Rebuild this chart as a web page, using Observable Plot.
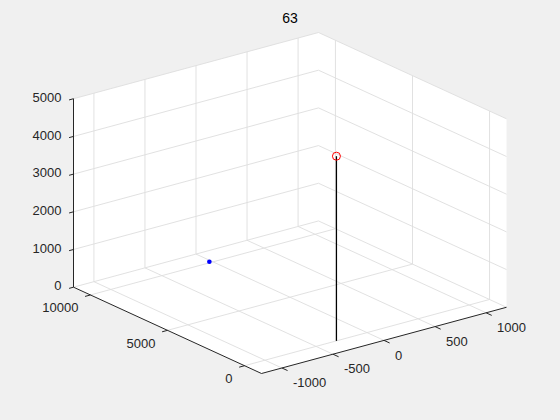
<!DOCTYPE html>
<html>
<head>
<meta charset="utf-8">
<script src="https://cdn.jsdelivr.net/npm/d3@7"></script>
<script src="https://cdn.jsdelivr.net/npm/@observablehq/plot@0.6"></script>
<style>
  html, body { margin: 0; padding: 0; background: #f0f0f0; }
  #chart { width: 560px; height: 420px; }
</style>
</head>
<body>
<div id="chart"></div>
<script>
// ---- chart data ----
const titleText = "63";
const xTicks = [-1000, -500, 0, 500, 1000];
const yTicks = [0, 5000, 10000];
const zTicks = [0, 1000, 2000, 3000, 4000, 5000];
const xLim = [-1200, 1200];
const yLim = [-1100, 11100];
const zLim = [0, 5000];
const viewAz = -37.5;
const viewEl = 30;
// red circle on top of a black stem
const circleX = [-300];
const circleY = [0];
const circleZ = [4900];
// blue dot
const dotX = [-20];
const dotY = [10100];
const dotZ = [0];

// ---- 3D projection (orthographic, MATLAB-style view) ----
const A = viewAz * Math.PI / 180, E = viewEl * Math.PI / 180;
function proj(x, y, z) {
  const u = (x - xLim[0]) / (xLim[1] - xLim[0]) - 0.5;
  const v = (y - yLim[0]) / (yLim[1] - yLim[0]) - 0.5;
  const w = (z - zLim[0]) / (zLim[1] - zLim[0]) - 0.5;
  return [u * Math.cos(A) + v * Math.sin(A),
          w * Math.cos(E) + Math.sin(E) * (-u * Math.sin(A) + v * Math.cos(A))];
}
function seg(p, q, extra = {}) {
  const a = proj(...p), b = proj(...q);
  return {x1: a[0], y1: a[1], x2: b[0], y2: b[1], ...extra};
}
const [x0, x1] = xLim, [y0, y1] = yLim, [z0, z1] = zLim;
const xR = x1 - x0, yR = y1 - y0;

// box corners -> silhouette (white axes background)
const corners = [];
for (const x of xLim) for (const y of yLim) for (const z of zLim) corners.push(proj(x, y, z));
const hull = d3.polygonHull(corners);
const hullPts = [...hull, hull[0]].map(([x, y]) => ({x, y}));
const sxExt = d3.extent(corners, d => d[0]);
const syExt = d3.extent(corners, d => d[1]);

// grid lines on the back walls and floor
const grid = [];
for (const t of xTicks) {
  grid.push(seg([t, y0, z0], [t, y1, z0]));
  grid.push(seg([t, y1, z0], [t, y1, z1]));
}
for (const t of yTicks) {
  grid.push(seg([x0, t, z0], [x1, t, z0]));
  grid.push(seg([x1, t, z0], [x1, t, z1]));
}
for (const t of zTicks) {
  grid.push(seg([x0, y1, t], [x1, y1, t]));
  grid.push(seg([x1, y1, t], [x1, y0, t]));
}

// axis lines
const axes = [
  seg([x0, y0, z0], [x1, y0, z0]),
  seg([x0, y0, z0], [x0, y1, z0]),
  seg([x0, y1, z0], [x0, y1, z1])
];
// tick marks
const ticks = [];
for (const t of xTicks) ticks.push(seg([t, y0, z0], [t, y0 - 0.03 * yR, z0]));
for (const t of yTicks) ticks.push(seg([x0, t, z0], [x0 - 0.022 * xR, t, z0]));
for (const t of zTicks) ticks.push(seg([x0, y1, t], [x0 - 0.018 * xR, y1, t]));

// tick labels
const xLabels = xTicks.map(t => { const p = proj(t, y0, z0); return {x: p[0], y: p[1], text: String(t)}; });
const yLabels = yTicks.map(t => { const p = proj(x0, t, z0); return {x: p[0], y: p[1], text: String(t)}; });
const zLabels = zTicks.map(t => { const p = proj(x0, y1, t); return {x: p[0], y: p[1], text: String(t)}; });

// data marks
const stems = circleX.map((x, i) => seg([x, circleY[i], z0], [x, circleY[i], circleZ[i]]));
const circles = circleX.map((x, i) => { const p = proj(x, circleY[i], circleZ[i]); return {x: p[0], y: p[1]}; });
const dots = dotX.map((x, i) => { const p = proj(x, dotY[i], dotZ[i]); return {x: p[0], y: p[1]}; });

const axisColor = "#262626";
const chart = Plot.plot({
  width: 560,
  height: 420,
  marginLeft: 73,
  marginRight: 54,
  marginTop: 32,
  marginBottom: 47,
  x: {domain: sxExt, axis: null},
  y: {domain: syExt, axis: null},
  style: {background: "transparent", fontFamily: "'Liberation Sans', Arial, sans-serif"},
  marks: [
    Plot.line(hullPts, {x: "x", y: "y", fill: "white", stroke: "none", curve: "linear-closed"}),
    Plot.link(grid, {x1: "x1", y1: "y1", x2: "x2", y2: "y2", stroke: "#dedede", strokeWidth: 0.9}),
    Plot.link(stems, {x1: "x1", y1: "y1", x2: "x2", y2: "y2", stroke: "black", strokeWidth: 1.3}),
    Plot.dot(circles, {x: "x", y: "y", r: 4, stroke: "red", strokeWidth: 1, fill: "none"}),
    Plot.dot(dots, {x: "x", y: "y", r: 2.3, fill: "#0000ff", stroke: "none"}),
    Plot.link(axes, {x1: "x1", y1: "y1", x2: "x2", y2: "y2", stroke: axisColor, strokeWidth: 1}),
    Plot.link(ticks, {x1: "x1", y1: "y1", x2: "x2", y2: "y2", stroke: axisColor, strokeWidth: 1}),
    Plot.text(xLabels, {x: "x", y: "y", text: "text", textAnchor: "start", dx: 11, dy: 15, fontSize: 13, fill: axisColor}),
    Plot.text(yLabels, {x: "x", y: "y", text: "text", textAnchor: "end", dx: -12, dy: 13, fontSize: 13, fill: axisColor}),
    Plot.text(zLabels, {x: "x", y: "y", text: "text", textAnchor: "end", dx: -12, dy: -1, fontSize: 13, fill: axisColor}),
    Plot.text([titleText], {frameAnchor: "top", lineAnchor: "middle", text: d => d, dy: -14, fontSize: 14, fill: "black"})
  ]
});
document.getElementById("chart").appendChild(chart);
</script>
</body>
</html>
